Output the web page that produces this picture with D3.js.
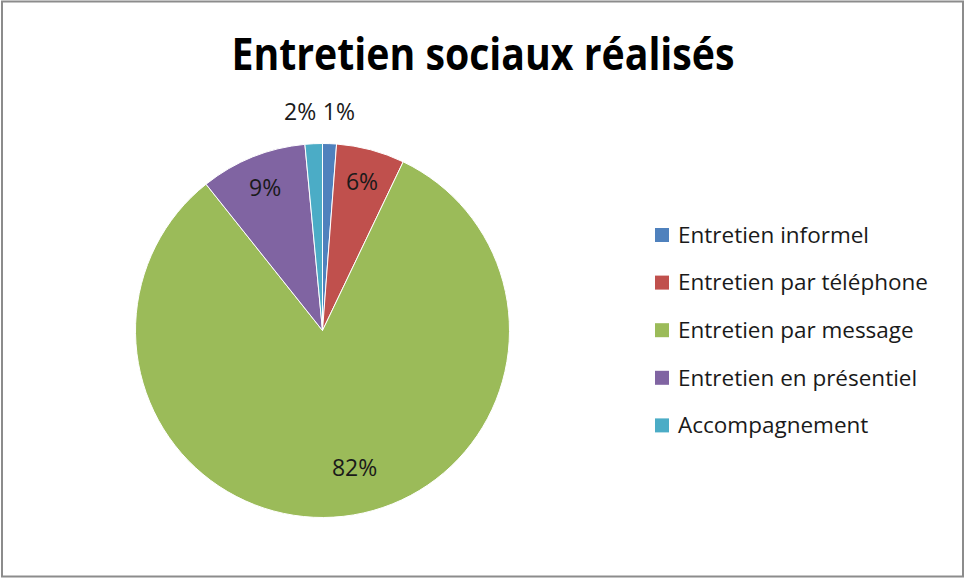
<!DOCTYPE html>
<html>
<head>
<meta charset="utf-8">
<script src="https://cdn.jsdelivr.net/npm/d3@7"></script>
<style>
  body { margin: 0; background: #fff; }
  svg text { font-family: 'Open Sans', 'Noto Sans', sans-serif; }
</style>
</head>
<body>
<div class="graph"></div>
<script>
const categories = ['Entretien informel', 'Entretien par téléphone', 'Entretien par message', 'Entretien en présentiel', 'Accompagnement'];
const values = [1.2, 5.9, 82.2, 9.2, 1.5];
const colors = ['#4f81bd', '#c0504d', '#9bbb59', '#8064a2', '#4bacc6'];
const title = 'Entretien sociaux réalisés';

const w = 965;
const h = 578;
const cx = 322.5;
const cy = 330.5;
const radius = 187;

const svg = d3.select('.graph')
  .append('svg')
  .attr('width', w)
  .attr('height', h);

svg.append('rect')
  .attr('x', 2)
  .attr('y', 1.5)
  .attr('width', w - 4)
  .attr('height', h - 3)
  .attr('fill', '#fff')
  .attr('stroke', '#8c8c8c')
  .attr('stroke-width', 2);

svg.append('text')
  .attr('x', 483)
  .attr('y', 70)
  .attr('text-anchor', 'middle')
  .style('font-family', "'Liberation Sans Narrow', 'Open Sans', sans-serif")
  .style('font-weight', 'bold')
  .style('font-size', '44px')
  .attr('textLength', 503)
  .attr('lengthAdjust', 'spacingAndGlyphs')
  .text(title);

const total = d3.sum(values);
const data = categories.map((c, i) => ({ name: c, value: values[i], color: colors[i] }));

const pie = d3.pie().sort(null).value((d) => d.value);
const arcs = pie(data);
const arc = d3.arc().innerRadius(0).outerRadius(radius);

const g = svg.append('g')
  .attr('transform', `translate(${cx}, ${cy})`);

g.selectAll('path')
  .data(arcs)
  .enter()
  .append('path')
  .attr('d', arc)
  .attr('fill', (d) => d.data.color)
  .attr('stroke', '#fff')
  .attr('stroke-width', 1);

// labels: small slices go outside, others inside
const inner = d3.arc().innerRadius(radius * 0.82).outerRadius(radius * 0.82);
const bigInner = d3.arc().innerRadius(radius * 0.76).outerRadius(radius * 0.76);
const outer = d3.arc().innerRadius(radius * 1.17).outerRadius(radius * 1.17);
const pct = (d) => Math.round(d.data.value / total * 100) + '%';

g.selectAll('text.lbl')
  .data(arcs)
  .enter()
  .append('text')
  .attr('class', 'lbl')
  .attr('transform', (d) => {
    const share = d.data.value / total;
    let p;
    if (share < 0.03) {
      p = outer.centroid(d);
      const right = (d.startAngle + d.endAngle) / 2 < Math.PI;
      p[0] += right ? -8 : 4;
    } else if (share > 0.5) {
      p = bigInner.centroid(d);
      p[0] += 16;
      p[1] -= 4;
    } else {
      p = inner.centroid(d);
    }
    return `translate(${p[0]}, ${p[1]})`;
  })
  .attr('text-anchor', (d) => {
    const share = d.data.value / total;
    if (share >= 0.03) return 'middle';
    return (d.startAngle + d.endAngle) / 2 < Math.PI ? 'start' : 'end';
  })
  .attr('dy', '0.35em')
  .style('font-size', '23px')
  .attr('fill', '#1a1a1a')
  .text(pct);

const legend = svg.append('g')
  .attr('class', 'legend')
  .attr('transform', 'translate(655, 235)');

legend.selectAll('rect')
  .data(data)
  .enter()
  .append('rect')
  .attr('x', 0)
  .attr('y', (d, i) => i * 47.6 - 7)
  .attr('width', 14)
  .attr('height', 14)
  .attr('fill', (d) => d.color);

legend.selectAll('text')
  .data(data)
  .enter()
  .append('text')
  .attr('x', 23)
  .attr('y', (d, i) => i * 47.6)
  .attr('dy', '0.35em')
  .style('font-size', '22.5px')
  .attr('fill', '#1a1a1a')
  .text((d) => d.name);
</script>
</body>
</html>
